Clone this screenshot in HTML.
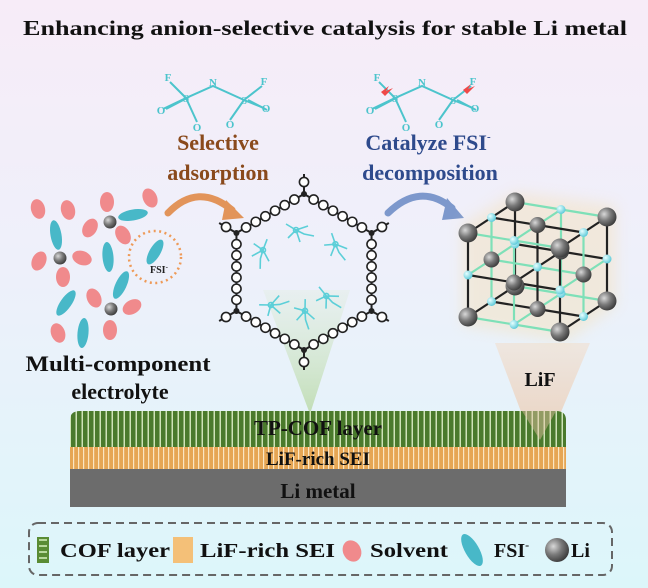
<!DOCTYPE html>
<html><head><meta charset="utf-8"><style>
html,body{margin:0;padding:0;width:648px;height:588px;overflow:hidden}
svg{display:block}
text{font-family:"Liberation Serif",serif;font-weight:bold}
</style></head><body>
<svg id="s" width="648" height="588" viewBox="0 0 648 588" xmlns="http://www.w3.org/2000/svg">
<defs>
<linearGradient id="bg" x1="0" y1="0" x2="0" y2="1">
<stop offset="0" stop-color="#f7ecf8"/><stop offset="0.45" stop-color="#eef0fa"/><stop offset="1" stop-color="#dcf6fa"/>
</linearGradient>
<linearGradient id="gc" x1="0" y1="0" x2="0" y2="1"><stop offset="0" stop-color="#d8ead0" stop-opacity="0.3"/><stop offset="1" stop-color="#b8d8a4"/></linearGradient>
<linearGradient id="tc" x1="0" y1="0" x2="0" y2="1"><stop offset="0" stop-color="#efe4da"/><stop offset="1" stop-color="#eac4a8"/></linearGradient>
<pattern id="cofp" width="6" height="10" patternUnits="userSpaceOnUse"><rect width="6" height="10" fill="#4a7a2c"/><rect x="3.5" width="1.5" height="10" fill="#cfe3b8"/></pattern>
<pattern id="seip" width="5" height="10" patternUnits="userSpaceOnUse"><rect width="5" height="10" fill="#e6a654"/><rect x="3" width="1.2" height="10" fill="#fbe6c2"/></pattern>
<radialGradient id="li" cx="0.35" cy="0.35" r="0.7"><stop offset="0" stop-color="#d8d8d8"/><stop offset="0.5" stop-color="#7a7a7a"/><stop offset="1" stop-color="#3a3a3a"/></radialGradient>
<radialGradient id="fa" cx="0.35" cy="0.35" r="0.7"><stop offset="0" stop-color="#e8ffff"/><stop offset="1" stop-color="#58c8d8"/></radialGradient>
<filter id="bl"><feGaussianBlur stdDeviation="7"/></filter>
</defs>
<rect width="648" height="588" fill="url(#bg)"/>
<text x="325" y="35" font-size="21" text-anchor="middle" textLength="604" lengthAdjust="spacingAndGlyphs" fill="#111">Enhancing anion-selective catalysis for stable Li metal</text>

<polygon points="263,290 350,290 310,414" fill="url(#gc)" opacity="0.8"/>
<polygon points="495,343 590,343 540,462" fill="url(#tc)" opacity="0.8"/>

<g stroke="#4cc4cc" stroke-width="2" fill="none">
<path d="M170,82 L186,98 L213,86 L244,100 L262,86 M186,98 L163,109 M186,98 L197,122 M244,100 L230,120 M244,100 L264,108"/>
<path d="M189,97 L166,109 M248,100 L267,110" />
</g>
<g fill="#4cc4cc" font-size="11" text-anchor="middle">
<text x="168" y="81">F</text><text x="213" y="86">N</text><text x="264" y="85">F</text>
<text x="186" y="102">S</text><text x="244" y="104">S</text>
<text x="161" y="114">O</text><text x="197" y="131">O</text><text x="230" y="128">O</text><text x="266" y="112">O</text>
</g>
<g transform="translate(209,0)">
<g stroke="#4cc4cc" stroke-width="2" fill="none">
<path d="M170,82 L186,98 L213,86 L244,100 L262,86 M186,98 L163,109 M186,98 L197,122 M244,100 L230,120 M244,100 L264,108"/>
<path d="M189,97 L166,109 M248,100 L267,110"/>
</g>
<g fill="#4cc4cc" font-size="11" text-anchor="middle">
<text x="168" y="81">F</text><text x="213" y="86">N</text><text x="264" y="85">F</text>
<text x="186" y="102">S</text><text x="244" y="104">S</text>
<text x="161" y="114">O</text><text x="197" y="131">O</text><text x="230" y="128">O</text><text x="266" y="112">O</text>
</g>
<path d="M172,92 L180,86 L177,91 L184,88 L176,96 Z M254,90 L262,84 L259,89 L266,86 L258,94 Z" fill="#f04848"/>
</g>

<text x="218" y="150" font-size="22" fill="#8a4a1c" text-anchor="middle">Selective</text>
<text x="218" y="180" font-size="22" fill="#8a4a1c" text-anchor="middle">adsorption</text>
<text x="428" y="150" font-size="22" fill="#2e4a8c" text-anchor="middle">Catalyze FSI<tspan font-size="11" dy="-10">-</tspan></text>
<text x="430" y="180" font-size="22" fill="#2e4a8c" text-anchor="middle">decomposition</text>

<path d="M168,213 Q198,182 232,210" stroke="#e2945a" stroke-width="7" fill="none" stroke-linecap="round"/>
<polygon points="226,200 244,218 222,220" fill="#e2945a"/>
<path d="M388,213 Q420,182 452,208" stroke="#7d98cc" stroke-width="7" fill="none" stroke-linecap="round"/>
<polygon points="447,198 464,218 442,220" fill="#7d98cc"/>

<g fill="#f08a8c">
<ellipse cx="38" cy="209" rx="7" ry="10" transform="rotate(-15 38 209)"/>
<ellipse cx="68" cy="210" rx="7" ry="10" transform="rotate(-15 68 210)"/>
<ellipse cx="107" cy="202" rx="7" ry="10"/>
<ellipse cx="150" cy="198" rx="7" ry="10" transform="rotate(-25 150 198)"/>
<ellipse cx="90" cy="228" rx="7" ry="10" transform="rotate(30 90 228)"/>
<ellipse cx="123" cy="235" rx="7" ry="10" transform="rotate(-30 123 235)"/>
<ellipse cx="39" cy="261" rx="7" ry="10" transform="rotate(25 39 261)"/>
<ellipse cx="82" cy="258" rx="7" ry="10" transform="rotate(-70 82 258)"/>
<ellipse cx="63" cy="277" rx="7" ry="10"/>
<ellipse cx="94" cy="298" rx="7" ry="10" transform="rotate(-25 94 298)"/>
<ellipse cx="132" cy="307" rx="7" ry="10" transform="rotate(60 132 307)"/>
<ellipse cx="58" cy="333" rx="7" ry="10" transform="rotate(-20 58 333)"/>
<ellipse cx="110" cy="330" rx="7" ry="10"/>
</g>
<g fill="#48b8c8">
<ellipse cx="133" cy="215" rx="5.5" ry="15" transform="rotate(80 133 215)"/>
<ellipse cx="56" cy="235" rx="5.5" ry="15" transform="rotate(-10 56 235)"/>
<ellipse cx="108" cy="257" rx="5.5" ry="15" transform="rotate(-5 108 257)"/>
<ellipse cx="155" cy="252" rx="5.5" ry="14" transform="rotate(30 155 252)"/>
<ellipse cx="121" cy="285" rx="5.5" ry="15" transform="rotate(25 121 285)"/>
<ellipse cx="66" cy="303" rx="5.5" ry="15" transform="rotate(35 66 303)"/>
<ellipse cx="83" cy="333" rx="5.5" ry="15" transform="rotate(5 83 333)"/>
</g>
<g fill="url(#li)">
<circle cx="110" cy="222" r="6.5"/><circle cx="60" cy="258" r="6.5"/><circle cx="111" cy="309" r="6.5"/>
</g>
<circle cx="155" cy="257" r="26" fill="none" stroke="#ee9a58" stroke-width="2.5" stroke-dasharray="2 3.5"/>
<text x="150" y="273" font-size="10" fill="#222">FSI<tspan font-size="7" dy="-4">-</tspan></text>
<text x="118" y="371" font-size="22" fill="#111" text-anchor="middle" textLength="185" lengthAdjust="spacingAndGlyphs">Multi-component</text>
<text x="120" y="399" font-size="22" fill="#111" text-anchor="middle">electrolyte</text>

<g id="hex"></g>

<polygon points="462,225 515,192 616,205 616,306 566,342 462,325" fill="#f4e0b8" opacity="0.45" filter="url(#bl)"/>
<g id="cube"></g>
<text x="540" y="386" font-size="20" fill="#111" text-anchor="middle">LiF</text>

<path d="M70,420 Q70,411 80,411 L556,411 Q566,411 566,420 L566,447 L70,447 Z" fill="url(#cofp)"/>
<rect x="70" y="447" width="496" height="22" fill="url(#seip)"/>
<rect x="70" y="469" width="496" height="38" fill="#6c6c6c"/>
<polygon points="522,411 556,411 540,440" fill="#eac4a8" opacity="0.45"/>
<text x="318" y="435" font-size="21" fill="#111" text-anchor="middle">TP-COF layer</text>
<text x="318" y="465" font-size="19" fill="#111" text-anchor="middle">LiF-rich SEI</text>
<text x="318" y="498" font-size="21" fill="#111" text-anchor="middle">Li metal</text>

<rect x="29" y="523" width="583" height="52" rx="9" fill="none" stroke="#666" stroke-width="2" stroke-dasharray="8 5"/>
<rect x="37" y="537" width="12" height="26" fill="#5a8c34"/>
<path d="M39,540 h8 M39,546 h8 M39,552 h8 M39,558 h8" stroke="#b8d89c" stroke-width="2"/>
<text x="60" y="557" font-size="20" fill="#111" textLength="110" lengthAdjust="spacingAndGlyphs">COF layer</text>
<rect x="173" y="537" width="20" height="26" fill="#f4c078"/>
<text x="200" y="557" font-size="20" fill="#111" textLength="135" lengthAdjust="spacingAndGlyphs">LiF-rich SEI</text>
<ellipse cx="352" cy="551" rx="9" ry="11" transform="rotate(-25 352 551)" fill="#f08a8c"/>
<text x="370" y="557" font-size="20" fill="#111" textLength="78" lengthAdjust="spacingAndGlyphs">Solvent</text>
<ellipse cx="472" cy="550" rx="7" ry="18" transform="rotate(-30 472 550)" fill="#48b8c8"/>
<text x="494" y="557" font-size="20" fill="#111">FSI<tspan font-size="12" dy="-8">-</tspan></text>
<circle cx="557" cy="550" r="12" fill="url(#li)"/>
<text x="571" y="557" font-size="20" fill="#111">Li</text>
</svg>
<script>
(function(){
var NS="http://www.w3.org/2000/svg";
function el(p,t,a){var e=document.createElementNS(NS,t);for(var k in a)e.setAttribute(k,a[k]);p.appendChild(e);return e;}
var g=document.getElementById('cube');
var O=[468,317],A=[92,15],B=[0,-84],C=[47,-31];
function P(i,j,k){return [O[0]+i*A[0]/2+j*B[0]/2+k*C[0]/2,O[1]+i*A[1]/2+j*B[1]/2+k*C[1]/2];}
for(var k=2;k>=0;k--)for(var i=0;i<3;i++)for(var j=0;j<3;j++){
 var p=P(i,j,k),q;
 if(i<2){q=P(i+1,j,k);el(g,'line',{x1:p[0],y1:p[1],x2:q[0],y2:q[1],stroke:(j+k)%2?'#222':'#7ee0b8','stroke-width':2.2});}
 if(j<2){q=P(i,j+1,k);el(g,'line',{x1:p[0],y1:p[1],x2:q[0],y2:q[1],stroke:(i+k)%2?'#7ee0b8':'#222','stroke-width':2.2});}
 if(k<2){q=P(i,j,k+1);el(g,'line',{x1:p[0],y1:p[1],x2:q[0],y2:q[1],stroke:(i+j)%2?'#7ee0b8':'#222','stroke-width':2.2});}
}
for(var k=2;k>=0;k--)for(var i=0;i<3;i++)for(var j=0;j<3;j++){
 var p=P(i,j,k);
 if((i+j+k)%2==0)el(g,'circle',{cx:p[0],cy:p[1],r:(i%2||j%2||k%2)?8:9.5,fill:'url(#li)'});
 else el(g,'circle',{cx:p[0],cy:p[1],r:4.5,fill:'url(#fa)'});
}
var h=document.getElementById('hex');
var cx=304,cy=272,R=78,V=[];
for(var n=0;n<6;n++){var a=(-90+60*n)*Math.PI/180;V.push([cx+R*Math.cos(a),cy+R*Math.sin(a)]);}
for(var n=0;n<6;n++){var p=V[n],q=V[(n+1)%6];
 el(h,'line',{x1:p[0],y1:p[1],x2:q[0],y2:q[1],stroke:'#222','stroke-width':2});
 for(var t=1;t<7;t++){var x=p[0]+(q[0]-p[0])*t/7,y=p[1]+(q[1]-p[1])*t/7;
  el(h,'circle',{cx:x,cy:y,r:4.6,fill:'#fff',stroke:'#222','stroke-width':1.6});}
 var a=(-90+60*n)*Math.PI/180,x2=p[0]+20*Math.cos(a),y2=p[1]+20*Math.sin(a);
 el(h,'line',{x1:p[0],y1:p[1],x2:x2,y2:y2,stroke:'#222','stroke-width':2});
 el(h,'circle',{cx:p[0]+12*Math.cos(a),cy:p[1]+12*Math.sin(a),r:4.6,fill:'#fff',stroke:'#222','stroke-width':1.6});
 el(h,'circle',{cx:p[0],cy:p[1],r:3,fill:'#222'});
}
var fs=[[302,230,0],[340,248,40],[264,256,80],[276,302,-30],[332,298,20],[308,316,60]];
fs.forEach(function(f){var gg=el(h,'g',{transform:'translate('+f[0]+','+f[1]+') rotate('+f[2]+')',stroke:'#5ccfd8','stroke-width':1.6,fill:'none'});
 el(gg,'path',{d:'M-16,-6 L-6,0 L6,-4 M-6,0 L-14,8 M-6,0 L-2,12 M-6,0 L2,4 L12,6'});
 el(gg,'circle',{cx:-6,cy:0,r:2.5});});
})();
</script>
</body></html>
